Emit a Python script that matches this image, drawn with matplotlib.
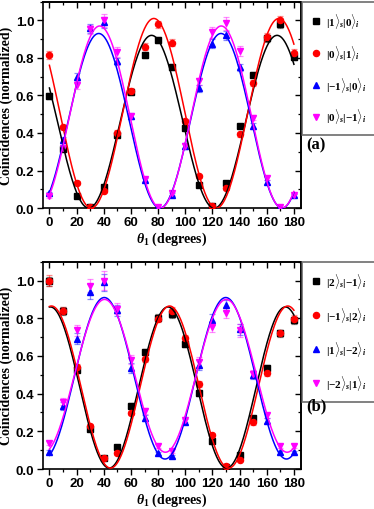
import numpy as np
import matplotlib
matplotlib.use("Agg")
import matplotlib.pyplot as plt
from matplotlib.lines import Line2D
from matplotlib.ticker import MultipleLocator

plt.rcParams['mathtext.fontset'] = 'custom'
plt.rcParams['mathtext.rm'] = 'Liberation Serif:bold'
plt.rcParams['mathtext.it'] = 'Liberation Serif:bold:italic'
plt.rcParams['mathtext.bf'] = 'Liberation Serif:bold'

theta = [0, 10, 20, 30, 40, 50, 60, 70, 80, 90, 100, 110, 120, 130, 140, 150, 160, 170, 180]

# ---- panel (a) ----
a_labels = [r'$|1\rangle_s|0\rangle_i$', r'$|0\rangle_s|1\rangle_i$',
            r'$|{-1}\rangle_s|0\rangle_i$', r'$|0\rangle_s|{-1}\rangle_i$']
a_black = [0.596, 0.314, 0.067, 0.004, 0.113, 0.388, 0.619, 0.817, 0.895, 0.752, 0.426, 0.124, 0.012, 0.135, 0.436, 0.711, 0.905, 0.98, 0.805]
a_red = [0.814, 0.431, 0.135, 0.004, 0.092, 0.402, 0.622, 0.860, 0.979, 0.881, 0.463, 0.170, 0.012, 0.105, 0.392, 0.667, 0.910, 1.0, 0.826]
a_blue = [0.078, 0.363, 0.700, 0.957, 0.99, 0.782, 0.49, 0.149, 0.004, 0.071, 0.33, 0.637, 0.875, 0.920, 0.750, 0.438, 0.140, 0.004, 0.069]
a_mag = [0.062, 0.319, 0.656, 0.952, 1.0, 0.832, 0.488, 0.154, 0.004, 0.078, 0.332, 0.675, 0.936, 0.984, 0.837, 0.482, 0.160, 0.004, 0.069]
a_black_err = [0.015, 0.01, 0.005, 0.003, 0.008, 0.012, 0.015, 0.015, 0.015, 0.015, 0.012, 0.008, 0.003, 0.008, 0.012, 0.015, 0.018, 0.02, 0.018]
a_red_err = [0.02, 0.012, 0.008, 0.003, 0.008, 0.012, 0.015, 0.018, 0.02, 0.018, 0.012, 0.008, 0.003, 0.008, 0.012, 0.015, 0.02, 0.022, 0.02]
a_blue_err = [0.008, 0.015, 0.02, 0.025, 0.03, 0.02, 0.015, 0.01, 0.003, 0.008, 0.015, 0.02, 0.025, 0.025, 0.02, 0.015, 0.01, 0.003, 0.008]
a_mag_err = [0.008, 0.015, 0.02, 0.025, 0.035, 0.025, 0.015, 0.01, 0.003, 0.008, 0.015, 0.02, 0.03, 0.035, 0.025, 0.015, 0.01, 0.003, 0.008]
# fit parameters: (min, max, peak position, period)
a_fits = [(0.0, 0.92, 75.2, 92.4), (0.0, 1.01, 76.85, 92.1),
          (0.0, 0.93, 36.3, 90.0), (0.0, 0.97, 37.0, 89.5)]

# ---- panel (b) ----
b_labels = [r'$|2\rangle_s|{-1}\rangle_i$', r'$|{-1}\rangle_s|2\rangle_i$',
            r'$|1\rangle_s|{-2}\rangle_i$', r'$|{-2}\rangle_s|1\rangle_i$']
b_black = [0.995, 0.837, 0.528, 0.213, 0.057, 0.115, 0.337, 0.621, 0.803, 0.823, 0.665, 0.404, 0.151, 0.009, 0.074, 0.271, 0.535, 0.72, 0.789]
b_red = [1.0, 0.84, 0.541, 0.230, 0.060, 0.085, 0.298, 0.582, 0.798, 0.84, 0.695, 0.452, 0.183, 0.015, 0.050, 0.248, 0.511, 0.722, 0.798]
b_blue = [0.092, 0.333, 0.691, 0.940, 0.99, 0.842, 0.535, 0.270, 0.083, 0.067, 0.252, 0.553, 0.793, 0.869, 0.741, 0.500, 0.257, 0.089, 0.089]
b_mag = [0.138, 0.358, 0.736, 0.972, 1.0, 0.851, 0.580, 0.307, 0.121, 0.096, 0.262, 0.567, 0.756, 0.830, 0.736, 0.505, 0.284, 0.124, 0.121]
b_black_err = [0.025, 0.02, 0.015, 0.01, 0.005, 0.008, 0.012, 0.015, 0.02, 0.02, 0.018, 0.015, 0.008, 0.003, 0.006, 0.012, 0.015, 0.018, 0.02]
b_red_err = [0.03, 0.02, 0.015, 0.01, 0.005, 0.008, 0.012, 0.015, 0.02, 0.02, 0.018, 0.015, 0.008, 0.003, 0.006, 0.012, 0.015, 0.018, 0.02]
b_blue_err = [0.01, 0.02, 0.03, 0.04, 0.045, 0.03, 0.025, 0.015, 0.008, 0.008, 0.015, 0.025, 0.03, 0.03, 0.03, 0.02, 0.015, 0.008, 0.008]
b_mag_err = [0.012, 0.02, 0.03, 0.035, 0.05, 0.03, 0.025, 0.015, 0.01, 0.01, 0.015, 0.025, 0.03, 0.03, 0.035, 0.02, 0.015, 0.01, 0.01]
b_fits = [(0.005, 0.86, 0.75, 86.5), (0.005, 0.865, 1.5, 87.0),
          (0.053, 0.91, 40.4, 89.4), (0.089, 0.90, 40.6, 89.6)]

colors = ['#000000', '#ff0000', '#0000ff', '#ff00ff']
markers = ['s', 'o', '^', 'v']

W, H = 374, 510
fig = plt.figure(figsize=(W / 100, H / 100), dpi=100)


def fit_curve(x, lo, hi, xp, per):
    return lo + (hi - lo) * np.cos(np.pi * (x - xp) / per) ** 2


def panel(rect, series, errs, fits, labels, tag, tag_y, spacing):
    ax = fig.add_axes(rect)
    xf = np.linspace(0, 180, 400)
    for y, e, f, c, m in zip(series, errs, fits, colors, markers):
        ax.errorbar(theta, y, yerr=e, fmt='none', ecolor=c, alpha=0.45,
                    elinewidth=0.9, capsize=2.2, capthick=0.9, zorder=2)
        ax.plot(theta, y, linestyle='none', marker=m, color=c, ms=4.4,
                mec=c, zorder=3)
        ax.plot(xf, fit_curve(xf, *f), color=c, lw=1.1, zorder=4)
    ax.set_xlim(-5, 185)
    ax.set_ylim(0, 1.1)
    ax.xaxis.set_major_locator(MultipleLocator(20))
    ax.xaxis.set_minor_locator(MultipleLocator(10))
    ax.set_yticks([0.0, 0.2, 0.4, 0.6, 0.8, 1.0])
    ax.yaxis.set_minor_locator(MultipleLocator(0.1))
    ax.tick_params(which='major', direction='out', length=4, width=1.0,
                   labelsize=9.5, pad=2)
    ax.tick_params(which='minor', direction='out', length=2.2, width=0.9)
    for lab in ax.get_xticklabels() + ax.get_yticklabels():
        lab.set_fontfamily('Liberation Sans')
        lab.set_fontweight('bold')
    for sp in ax.spines.values():
        sp.set_linewidth(1.2)
    top = ax.secondary_xaxis('top')
    top.xaxis.set_major_locator(MultipleLocator(20))
    top.xaxis.set_minor_locator(MultipleLocator(10))
    top.tick_params(which='major', direction='in', length=4, width=1.0, labeltop=False)
    top.tick_params(which='minor', direction='in', length=2.2, width=0.9)
    top.spines['top'].set_linewidth(1.2)
    right = ax.secondary_yaxis('right')
    right.set_yticks([0.0, 0.2, 0.4, 0.6, 0.8, 1.0])
    right.yaxis.set_minor_locator(MultipleLocator(0.1))
    right.tick_params(which='major', direction='in', length=4, width=1.0, labelright=False)
    right.tick_params(which='minor', direction='in', length=2.2, width=0.9)
    right.spines['right'].set_linewidth(1.2)

    ax.set_ylabel('Coincidences (normalized)', fontfamily='Liberation Serif',
                  fontweight='bold', fontsize=10, labelpad=2)
    ax.set_xlabel(r'$\theta_1$ (degrees)', fontfamily='Liberation Serif',
                  fontweight='bold', fontsize=10, labelpad=1)

    handles = [Line2D([], [], linestyle='none', marker=m, color=c, ms=4.4)
               for c, m in zip(colors, markers)]
    leg = ax.legend(handles, labels, loc='upper left',
                    bbox_to_anchor=(1.006, 1.0), borderaxespad=0,
                    fontsize=8, frameon=True, fancybox=False,
                    handlelength=0.8, handletextpad=0.5,
                    labelspacing=spacing, borderpad=0.85)
    fr = leg.get_frame()
    fr.set_edgecolor('#555555')
    fr.set_linewidth(1.3)
    fig.text(316 / W, 1 - tag_y / H, tag, fontfamily='Liberation Serif',
             fontweight='bold', fontsize=12, ha='center', va='center')
    return ax


panel([0.114, 0.590, 0.690, 0.405],
      [a_black, a_red, a_blue, a_mag],
      [a_black_err, a_red_err, a_blue_err, a_mag_err],
      a_fits, a_labels, '(a)', 145, 1.15)
panel([0.114, 0.0784, 0.690, 0.4065],
      [b_black, b_red, b_blue, b_mag],
      [b_black_err, b_red_err, b_blue_err, b_mag_err],
      b_fits, b_labels, '(b)', 406, 1.35)

fig.savefig('out.png', dpi=100)
